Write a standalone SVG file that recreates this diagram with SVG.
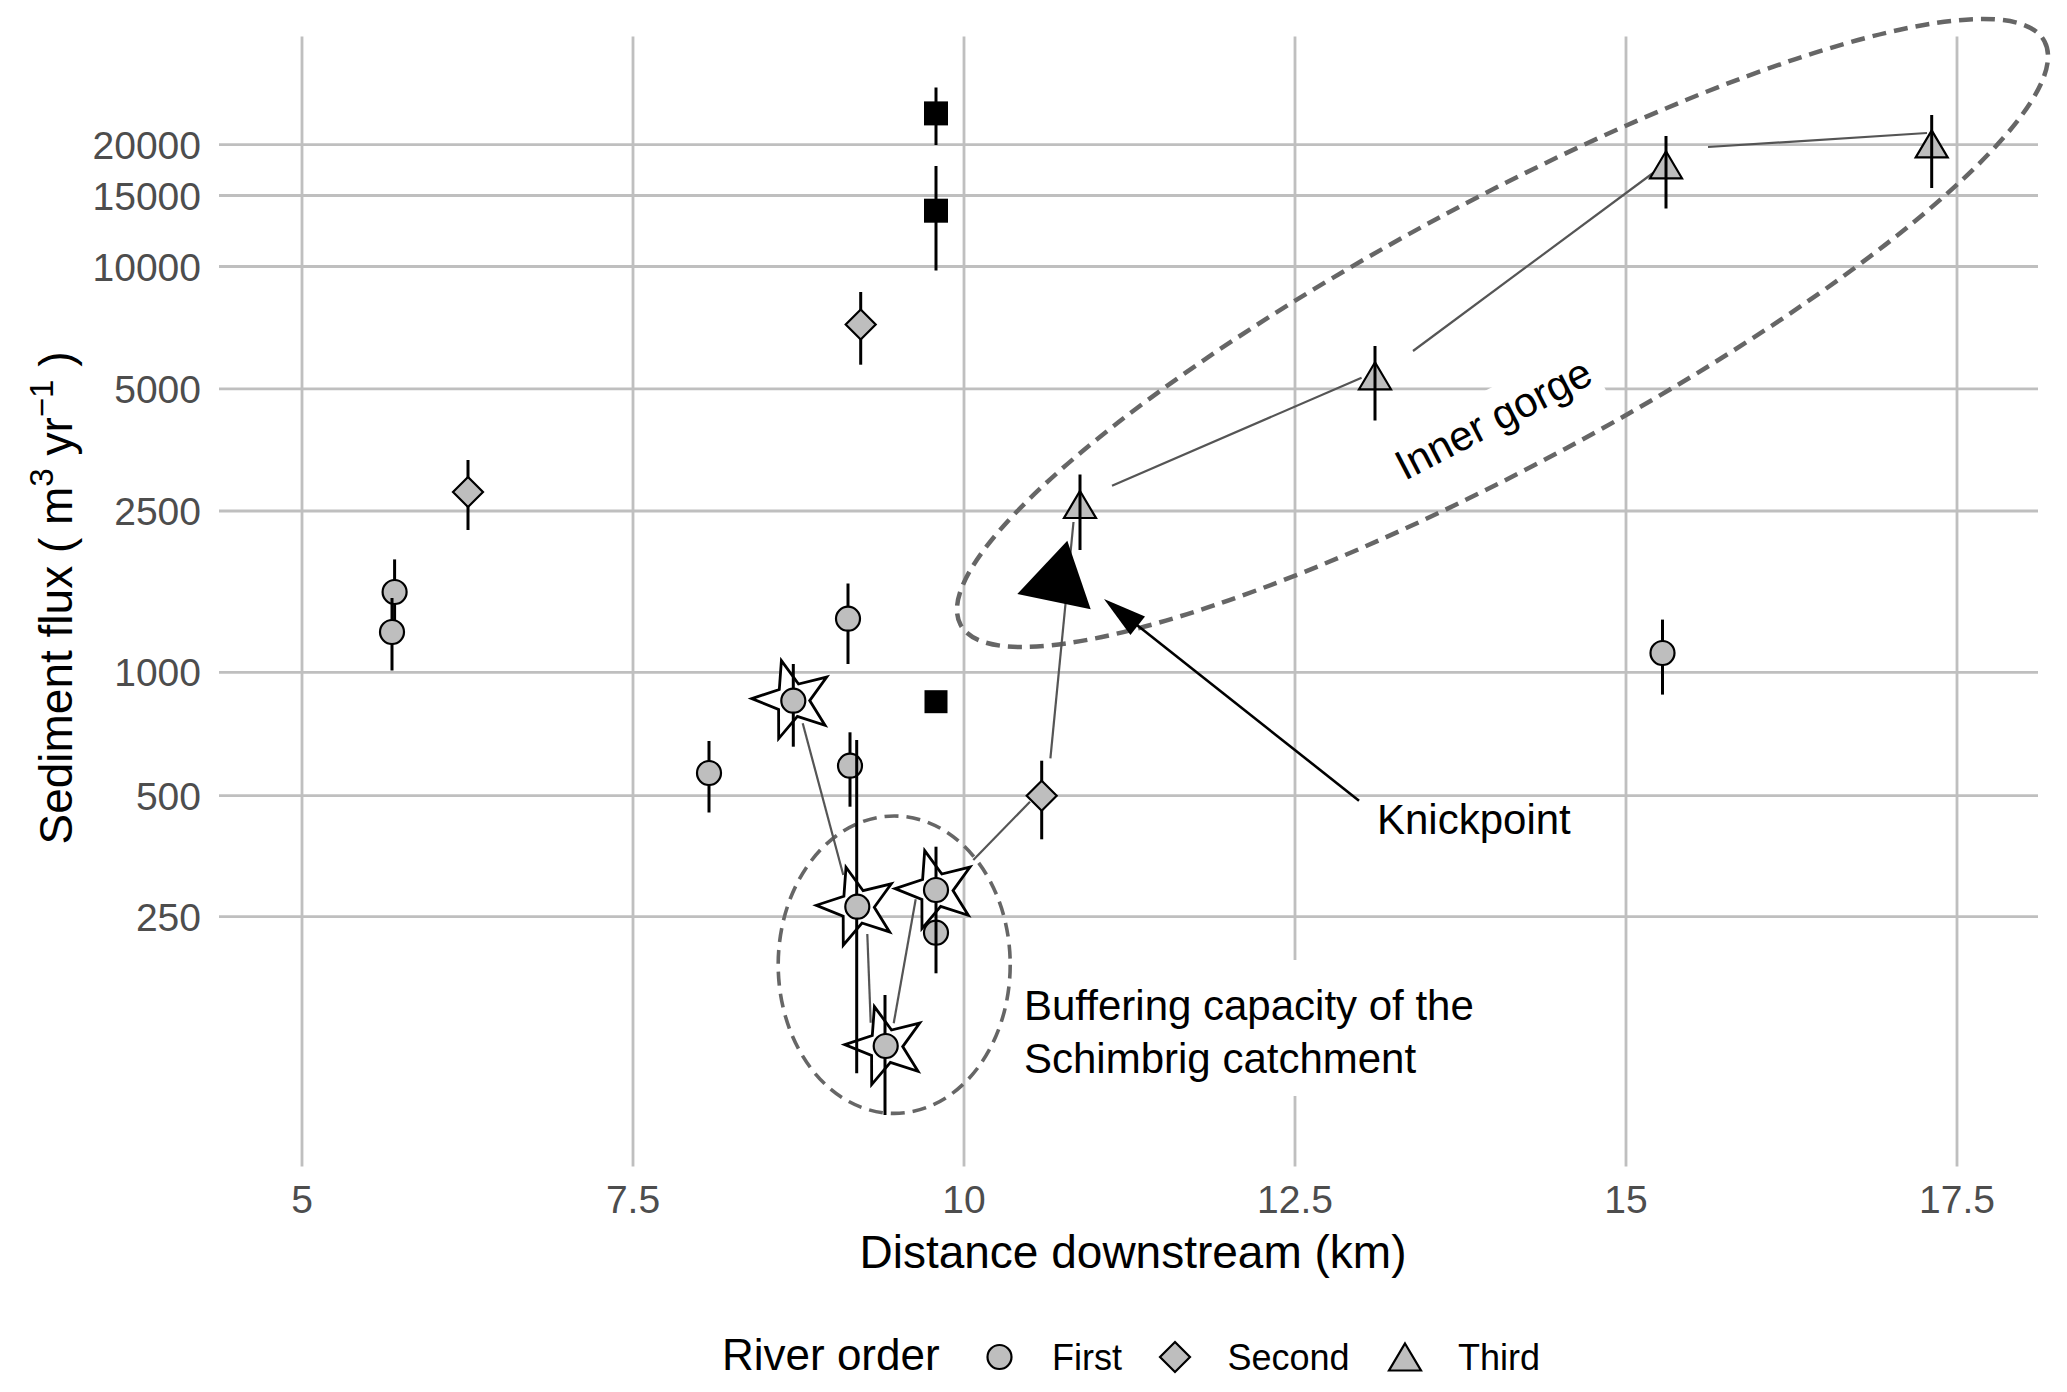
<svg xmlns="http://www.w3.org/2000/svg" xmlns:xlink="http://www.w3.org/1999/xlink" width="2067" height="1392" viewBox="0 0 2067 1392">
<style>
.grid{stroke:#bfbfbf;stroke-width:2.8;fill:none}
.tick{font-family:"Liberation Sans",Arial,sans-serif;font-size:39px;fill:#4d4d4d}
.title{font-family:"Liberation Sans",Arial,sans-serif;font-size:46px;fill:#000}
.ann{font-family:"Liberation Sans",Arial,sans-serif;font-size:42px;fill:#000}
.leg{font-family:"Liberation Sans",Arial,sans-serif;font-size:36px;fill:#000}
.legt{font-family:"Liberation Sans",Arial,sans-serif;font-size:44px;fill:#000}
.pt{fill:#bebebe;stroke:#000;stroke-width:2.2}
.sq{fill:#000;stroke:none}
.bar{stroke:#000;stroke-width:3;fill:none}
.conn{stroke:#555;stroke-width:2.2;fill:none}
.star{fill:#fff;stroke:#000;stroke-width:2.8;stroke-linejoin:miter}
.ell{fill:none;stroke:#666;stroke-dasharray:14 8}
</style>
<defs>
<path id="star" d="M-11.30,-39.41 L5.81,-15.97 L33.99,-22.93 L16.99,0.59 L32.31,25.24 L4.69,16.34 L-14.02,38.53 L-14.09,9.51 L-40.98,-1.43 L-13.40,-10.47 Z"/>
<path id="dia" d="M0,-15 L15,0 L0,15 L-15,0 Z"/>
<path id="tri" d="M0,-13.5 L16,13.5 L-16,13.5 Z"/>
</defs>
<rect x="0" y="0" width="2067" height="1392" fill="#fff"/>

<g id="gridlines">
<line class="grid" x1="302" y1="36.6" x2="302" y2="1166.6"/>
<line class="grid" x1="633" y1="36.6" x2="633" y2="1166.6"/>
<line class="grid" x1="964" y1="36.6" x2="964" y2="1166.6"/>
<line class="grid" x1="1295" y1="36.6" x2="1295" y2="1166.6"/>
<line class="grid" x1="1626" y1="36.6" x2="1626" y2="1166.6"/>
<line class="grid" x1="1957" y1="36.6" x2="1957" y2="1166.6"/>
<line class="grid" x1="219" y1="144.6" x2="2038" y2="144.6"/>
<line class="grid" x1="219" y1="195.5" x2="2038" y2="195.5"/>
<line class="grid" x1="219" y1="266.5" x2="2038" y2="266.5"/>
<line class="grid" x1="219" y1="388.8" x2="2038" y2="388.8"/>
<line class="grid" x1="219" y1="511" x2="2038" y2="511"/>
<line class="grid" x1="219" y1="672.3" x2="2038" y2="672.3"/>
<line class="grid" x1="219" y1="795.6" x2="2038" y2="795.6"/>
<line class="grid" x1="219" y1="916.6" x2="2038" y2="916.6"/>
</g>

<g id="axis-y-labels" class="tick" text-anchor="end">
<text x="201" y="158.6">20000</text>
<text x="201" y="209.5">15000</text>
<text x="201" y="280.5">10000</text>
<text x="201" y="402.8">5000</text>
<text x="201" y="525">2500</text>
<text x="201" y="686.3">1000</text>
<text x="201" y="809.6">500</text>
<text x="201" y="930.6">250</text>
</g>
<g id="axis-x-labels" class="tick" text-anchor="middle">
<text x="302" y="1213">5</text>
<text x="633" y="1213">7.5</text>
<text x="964" y="1213">10</text>
<text x="1295" y="1213">12.5</text>
<text x="1626" y="1213">15</text>
<text x="1957" y="1213">17.5</text>
</g>
<g id="axis-titles">
<text class="title" x="1133" y="1268" text-anchor="middle">Distance downstream (km)</text>
<text class="title" transform="translate(72,598) rotate(-90)" text-anchor="middle">Sediment flux ( m<tspan font-size="33" dy="-19">3</tspan><tspan dy="19"> yr</tspan><tspan font-size="33" dy="-19">−1</tspan><tspan dy="19"> )</tspan></text>
</g>

<g id="label-inner-gorge">
<g transform="translate(1500,431.5) rotate(-27.5)">
<rect x="-113" y="-43" width="226" height="57" fill="#fff"/>
<text class="ann" x="0" y="0" text-anchor="middle">Inner gorge</text>
</g>
</g>
<g id="label-buffering">
<rect x="1008" y="960" width="480" height="136" fill="#fff"/>
<text class="ann" x="1024" y="1020">Buffering capacity of the</text>
<text class="ann" x="1024" y="1073.3">Schimbrig catchment</text>
</g>
<g id="label-knickpoint">
<text class="ann" x="1377" y="834">Knickpoint</text>
</g>

<g id="ellipse-inner-gorge">
<ellipse class="ell" stroke-width="4.5" cx="1502.5" cy="333" rx="615.5" ry="131.7" transform="rotate(-28.3 1502.5 333)"/>
</g>
<g id="ellipse-buffering">
<ellipse class="ell" stroke-width="3.6" stroke-dasharray="12 7" cx="894.2" cy="964.7" rx="116" ry="148.7"/>
</g>

<g id="stars">
<use xlink:href="#star" class="star" transform="translate(792.7,700)"/>
<use xlink:href="#star" class="star" transform="translate(857.3,906.7)"/>
<use xlink:href="#star" class="star" transform="translate(936,890)"/>
<use xlink:href="#star" class="star" transform="translate(885.7,1046)"/>
</g>

<g id="connectors">
<line class="conn" x1="802.7" y1="723.3" x2="843.3" y2="875"/>
<line class="conn" x1="867.3" y1="934" x2="870.7" y2="1022.7"/>
<line class="conn" x1="893.7" y1="1023.3" x2="915.7" y2="899.3"/>
<line class="conn" x1="973.3" y1="860" x2="1030" y2="801.7"/>
<line class="conn" x1="1050.4" y1="758.3" x2="1073.5" y2="522"/>
<line class="conn" x1="1112" y1="485.7" x2="1361.6" y2="377.7"/>
<line class="conn" x1="1413" y1="351" x2="1662.5" y2="166"/>
<line class="conn" x1="1708" y1="147" x2="1927" y2="133"/>
</g>

<g id="knickpoint-arrow">
<line x1="1359" y1="800.7" x2="1136" y2="624.3" stroke="#000" stroke-width="2.6"/>
<polygon points="1104,599 1145,616.5 1130.4,634.9" fill="#000"/>
</g>

<g id="knickpoint-marker">
<polygon points="1067.3,540.7 1017.3,594 1090.7,609.3" fill="#000"/>
</g>

<g id="first-order">
<g id="p-c1"><line class="bar" x1="394.6" y1="559.4" x2="394.6" y2="629"/><circle class="pt" cx="394.6" cy="592" r="12"/></g>
<g id="p-c2"><line class="bar" x1="392" y1="598" x2="392" y2="670.5"/><circle class="pt" cx="392" cy="632" r="12"/></g>
<g id="p-c3"><line class="bar" x1="848" y1="583.5" x2="848" y2="664"/><circle class="pt" cx="848" cy="618.7" r="12"/></g>
<g id="p-c4"><line class="bar" x1="709" y1="741" x2="709" y2="812.5"/><circle class="pt" cx="709" cy="773" r="12"/></g>
<g id="p-c5"><line class="bar" x1="850" y1="732.3" x2="850" y2="806.7"/><circle class="pt" cx="850" cy="765.7" r="12"/></g>
<g id="p-c6"><line class="bar" x1="793.3" y1="664" x2="793.3" y2="746.7"/><circle class="pt" cx="793.3" cy="700.7" r="12"/></g>
<g id="p-c7"><line class="bar" x1="856.7" y1="740" x2="856.7" y2="1073.3"/><circle class="pt" cx="857.3" cy="906.7" r="12"/></g>
<g id="p-c8"><circle class="pt" cx="936" cy="932.7" r="12"/><line class="bar" x1="936" y1="846.7" x2="936" y2="973.3"/><circle class="pt" cx="936" cy="890" r="12"/></g>
<g id="p-c9"><line class="bar" x1="885" y1="995" x2="885" y2="1115"/><circle class="pt" cx="885.7" cy="1046" r="12"/></g>
<g id="p-c10"><line class="bar" x1="1662.5" y1="619.6" x2="1662.5" y2="694.6"/><circle class="pt" cx="1662.5" cy="653" r="12"/></g>
</g>

<g id="second-order">
<g id="p-d1"><line class="bar" x1="468" y1="460" x2="468" y2="530"/><use xlink:href="#dia" class="pt" transform="translate(468,492)"/></g>
<g id="p-d2"><line class="bar" x1="860.7" y1="292" x2="860.7" y2="364.7"/><use xlink:href="#dia" class="pt" transform="translate(860.7,324.5)"/></g>
<g id="p-d3"><line class="bar" x1="1041.7" y1="760.7" x2="1041.7" y2="839.3"/><use xlink:href="#dia" class="pt" transform="translate(1041.7,795.7)"/></g>
</g>

<g id="third-order">
<g id="p-t1"><use xlink:href="#tri" class="pt" transform="translate(1080,504.5)"/><line class="bar" x1="1080" y1="474.5" x2="1080" y2="550"/></g>
<g id="p-t2"><use xlink:href="#tri" class="pt" transform="translate(1375,375.8)"/><line class="bar" x1="1375" y1="346" x2="1375" y2="420.5"/></g>
<g id="p-t3"><use xlink:href="#tri" class="pt" transform="translate(1666,164.8)"/><line class="bar" x1="1666" y1="136" x2="1666" y2="208.5"/></g>
<g id="p-t4"><use xlink:href="#tri" class="pt" transform="translate(1931.7,143.9)"/><line class="bar" x1="1931.7" y1="115" x2="1931.7" y2="188"/></g>
</g>

<g id="squares">
<g id="p-s1"><line class="bar" x1="936" y1="87.5" x2="936" y2="145"/><rect class="sq" x="924" y="101.4" width="24" height="24"/></g>
<g id="p-s2"><line class="bar" x1="936" y1="166" x2="936" y2="270.5"/><rect class="sq" x="924" y="198.7" width="24" height="24"/></g>
<g id="p-s3"><rect class="sq" x="924.5" y="690.2" width="23" height="23"/></g>
</g>

<g id="legend">
<text class="legt" x="722" y="1370">River order</text>
<circle class="pt" cx="999.5" cy="1357" r="12"/>
<text class="leg" x="1052" y="1370">First</text>
<use xlink:href="#dia" class="pt" transform="translate(1175,1357)"/>
<text class="leg" x="1227.5" y="1370">Second</text>
<use xlink:href="#tri" class="pt" transform="translate(1405,1357)"/>
<text class="leg" x="1458" y="1370">Third</text>
</g>
</svg>
